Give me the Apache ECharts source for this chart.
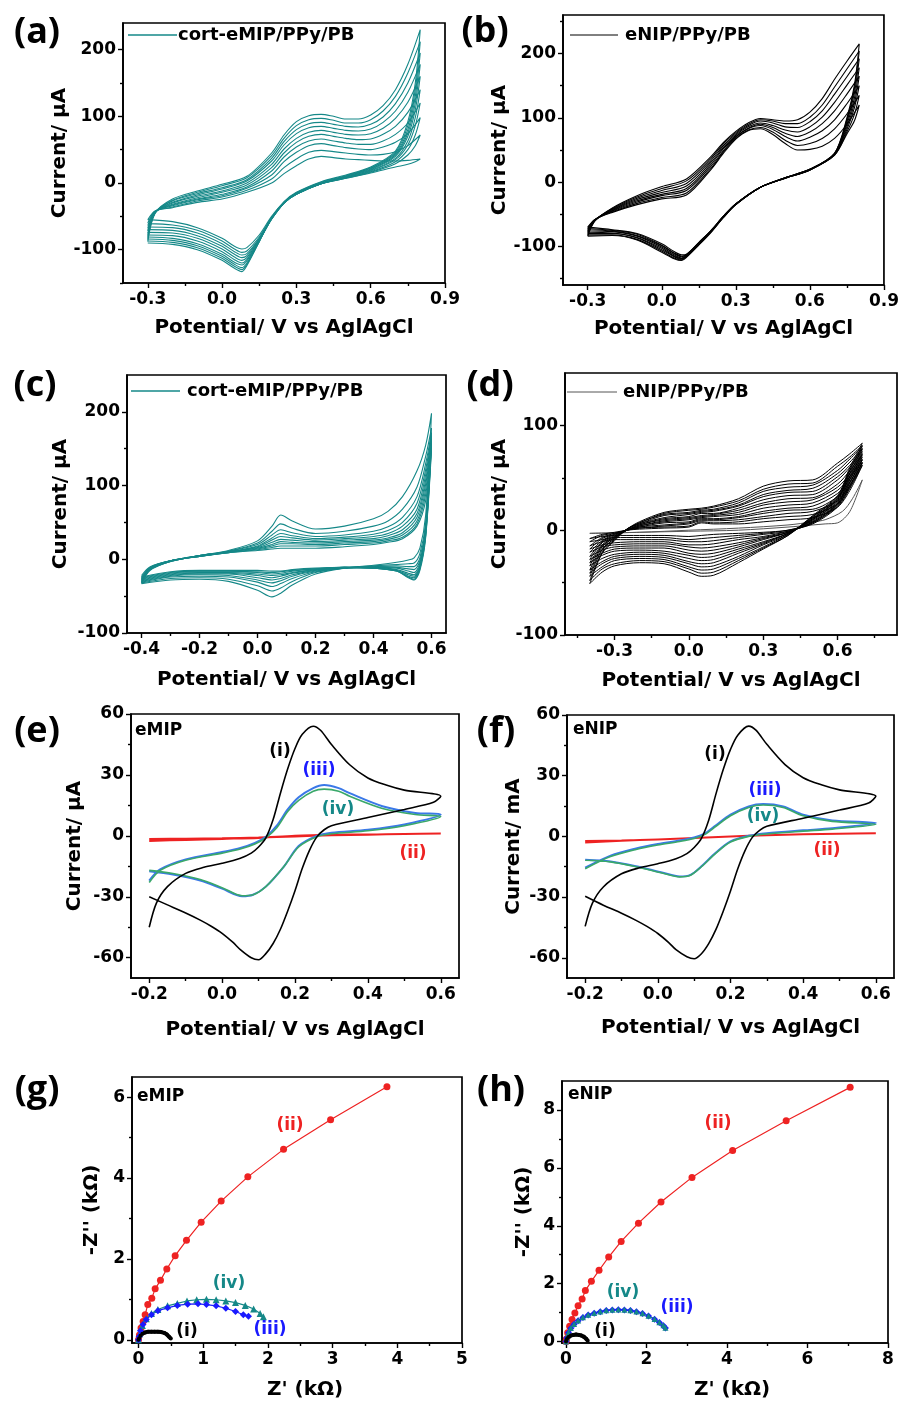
<!DOCTYPE html>
<html><head><meta charset="utf-8">
<script src="https://cdn.jsdelivr.net/npm/echarts@6/dist/echarts.min.js"></script>
<style>html,body{margin:0;padding:0;background:#fff}#c{width:902px;height:1406px}</style>
</head><body><div id="c"></div>
<script>
// ---------- DATA ----------
// (a) cort-eMIP/PPy/PB  (forward / reverse sweeps, one row per cycle)
const aFwdV = [-0.3,-0.27,-0.2,-0.1,0.0,0.1,0.2,0.25,0.3,0.35,0.4,0.45,0.5,0.55,0.6,0.65,0.7,0.75,0.8];
const aRevV = [0.8,0.78,0.75,0.7,0.6,0.5,0.4,0.3,0.25,0.2,0.15,0.1,0.08,0.05,0.0,-0.1,-0.2,-0.3];
const aFwdI = [
 [-88,-45,-24,-12,-2,10,45,72,92,101,103,100,96,96,102,116,140,178,230],
 [-85,-45,-26,-14,-4,8,41,67,86,95,97,94,90,90,95,108,130,165,212],
 [-82,-44,-27,-16,-7,5,37,62,80,89,91,88,85,84,88,99,119,150,195],
 [-79,-44,-29,-18,-9,3,33,57,74,83,85,82,79,78,81,91,108,136,178],
 [-76,-44,-30,-20,-12,0,28,51,67,76,79,76,73,72,74,82,97,121,160],
 [-72,-43,-32,-22,-14,-3,23,45,61,70,73,70,67,65,66,73,85,106,140],
 [-68,-43,-33,-24,-17,-6,18,39,54,63,66,63,60,58,58,63,73,90,120],
 [-64,-43,-34,-25,-19,-8,12,32,46,56,59,56,53,51,50,54,61,74,98],
 [-60,-42,-36,-27,-21,-11,6,23,36,46,49,47,45,43,42,43,47,56,72],
 [-55,-42,-37,-29,-24,-14,0,14,26,36,40,38,36,35,34,33,33,34,36]
];
const aRevI = [
 [230,150,92,48,24,12,2,-14,-28,-52,-88,-124,-133,-128,-116,-100,-92,-90],
 [212,140,86,46,23,11,1,-15,-29,-53,-88,-122,-130,-125,-113,-97,-89,-87],
 [195,130,80,44,22,10,0,-15,-29,-53,-87,-120,-127,-122,-110,-94,-86,-84],
 [178,120,75,42,21,10,0,-16,-30,-54,-87,-117,-123,-119,-107,-91,-83,-81],
 [160,110,70,40,20,9,-1,-16,-30,-54,-86,-115,-120,-115,-103,-87,-79,-78],
 [140,98,63,37,19,9,-1,-16,-30,-54,-85,-112,-116,-111,-99,-83,-75,-74],
 [120,86,57,35,18,8,-1,-17,-30,-54,-84,-109,-112,-107,-95,-79,-71,-70],
 [98,72,50,32,17,8,-1,-17,-30,-53,-83,-106,-108,-103,-91,-75,-67,-66],
 [72,56,42,29,16,7,-1,-17,-30,-52,-81,-102,-104,-99,-87,-71,-63,-61],
 [36,32,28,24,15,7,-1,-17,-29,-50,-78,-97,-99,-95,-83,-67,-58,-55]
];
// (b) eNIP/PPy/PB
const bFwdV = [-0.3,-0.27,-0.2,-0.1,0.0,0.1,0.2,0.25,0.3,0.35,0.4,0.45,0.5,0.55,0.6,0.65,0.7,0.75,0.8];
const bRevV = [0.8,0.78,0.75,0.7,0.6,0.5,0.4,0.3,0.25,0.2,0.15,0.1,0.08,0.05,0.0,-0.1,-0.2,-0.3];
const bFwdI = [
 [-84,-60,-40,-21,-7,5,40,62,79,92,99,97,95,97,109,130,160,188,215],
 [-82,-60,-41,-23,-10,2,37,60,77,90,97,95,91,91,101,120,148,176,204],
 [-80,-59,-42,-25,-13,-2,34,57,75,88,95,92,86,85,94,111,137,164,192],
 [-78,-59,-43,-27,-16,-6,31,54,73,86,92,88,81,78,86,101,124,151,178],
 [-76,-59,-44,-29,-19,-10,28,52,71,84,90,85,76,71,78,91,111,137,165],
 [-74,-58,-45,-31,-21,-13,25,49,70,83,88,82,71,64,70,80,97,122,150],
 [-72,-58,-46,-33,-24,-17,22,47,68,81,85,78,65,57,60,68,83,106,135],
 [-70,-58,-47,-35,-26,-20,20,45,67,80,83,74,60,50,51,56,68,90,120]
];
const bRevI = [
 [215,150,100,45,20,7,-8,-35,-55,-78,-98,-117,-122,-119,-109,-90,-83,-84],
 [204,145,97,45,20,7,-8,-35,-55,-77,-97,-116,-121,-118,-107,-89,-82,-82],
 [192,138,94,44,20,7,-8,-35,-54,-77,-97,-115,-120,-116,-105,-87,-80,-80],
 [178,130,90,44,20,7,-8,-34,-54,-76,-96,-115,-119,-115,-103,-86,-79,-78],
 [165,122,86,43,19,6,-8,-34,-54,-76,-95,-114,-118,-113,-101,-84,-77,-76],
 [150,115,82,43,19,6,-8,-34,-53,-76,-95,-113,-116,-111,-99,-83,-76,-74],
 [135,105,78,42,19,6,-8,-34,-53,-75,-94,-113,-115,-110,-98,-81,-75,-72],
 [120,95,75,42,19,6,-8,-34,-53,-75,-94,-112,-113,-108,-96,-80,-74,-70]
];
// (c) cort-eMIP/PPy/PB
const cFwdV = [-0.4,-0.37,-0.3,-0.2,-0.1,0.0,0.05,0.08,0.12,0.2,0.3,0.4,0.45,0.5,0.55,0.58,0.6];
const cRevV = [0.6,0.58,0.56,0.54,0.52,0.48,0.4,0.3,0.2,0.12,0.08,0.05,0.0,-0.1,-0.2,-0.3,-0.4];
const cFwdI = [
 [-33,-15,-3,5,12,25,45,60,52,41,45,55,65,85,120,155,198],
 [-32,-14,-3,5,11,22,38,48,42,35,38,45,52,68,98,140,178],
 [-31,-14,-3,5,11,20,33,40,36,31,33,38,44,57,85,130,172],
 [-30,-13,-2,5,10,18,29,35,32,28,30,34,39,50,76,122,168],
 [-29,-13,-2,5,10,17,26,31,29,26,28,31,35,45,68,115,165],
 [-28,-12,-2,4,10,16,23,27,26,24,26,28,32,40,62,108,162],
 [-27,-12,-2,4,10,15,20,24,23,22,24,26,29,36,57,102,160],
 [-26,-11,-2,4,9,14,18,21,21,20,22,24,27,33,52,95,158],
 [-24,-11,-2,4,9,13,16,18,18,18,20,22,25,30,48,88,155],
 [-22,-10,-2,4,9,12,14,15,15,15,17,20,23,28,45,80,150]
];
const cRevI = [
 [198,60,15,2,-1,-4,-8,-12,-20,-35,-46,-51,-42,-30,-27,-28,-33],
 [178,50,8,-5,-6,-7,-9,-12,-18,-30,-39,-43,-36,-27,-25,-26,-32],
 [172,45,2,-10,-10,-9,-10,-12,-17,-26,-33,-37,-31,-24,-23,-24,-31],
 [168,42,-2,-14,-13,-11,-10,-12,-16,-23,-29,-32,-28,-22,-21,-23,-30],
 [165,40,-5,-18,-16,-12,-11,-12,-15,-21,-26,-28,-25,-20,-20,-22,-29],
 [162,38,-8,-21,-19,-14,-11,-11,-14,-19,-23,-25,-22,-19,-19,-21,-28],
 [160,36,-10,-23,-21,-15,-12,-11,-14,-18,-21,-22,-20,-18,-18,-20,-27],
 [158,34,-12,-25,-23,-16,-12,-11,-13,-16,-19,-20,-18,-17,-17,-19,-26],
 [155,32,-13,-27,-24,-16,-12,-11,-13,-15,-17,-18,-17,-16,-16,-18,-25],
 [150,30,-15,-28,-25,-16,-12,-11,-12,-14,-16,-16,-15,-15,-15,-17,-24]
];
// (d) eNIP/PPy/PB
const dFirstV = [-0.4,-0.2,0.0,0.2,0.4,0.5,0.55,0.6,0.65,0.7,0.66,0.62,0.55,0.5,0.4,0.2,0.0,-0.2,-0.4];
const dFirstI = [-3,-2,-1,0,3,5,6,7,18,48,30,18,10,8,5,2,0,-2,-3];
const dFwdV = [-0.4,-0.35,-0.3,-0.25,-0.2,-0.1,0.0,0.05,0.1,0.2,0.3,0.4,0.5,0.6,0.65,0.7];
const dRevV = [0.7,0.65,0.6,0.5,0.4,0.3,0.2,0.1,0.05,0.0,-0.1,-0.2,-0.3,-0.35,-0.4];
const dFwdI = [
 [-8,-4,-2,0,1,2,3,7,6,6,8,10,12,22,38,62],
 [-11,-5,-3,0,2,3,4,8,7,8,11,13,15,25,41,64],
 [-15,-7,-3,0,2,4,6,9,9,10,13,16,18,28,43,65],
 [-18,-8,-4,0,3,5,7,10,10,12,16,19,20,32,46,67],
 [-21,-10,-4,0,3,7,8,11,11,13,18,21,23,35,49,68],
 [-25,-11,-5,0,4,8,10,12,13,15,21,24,26,38,51,70],
 [-28,-12,-6,0,4,9,11,13,14,17,24,27,29,41,54,72],
 [-31,-14,-6,0,5,10,12,14,15,19,26,30,31,44,57,73],
 [-34,-15,-7,0,5,11,13,16,16,21,29,33,34,48,60,75],
 [-38,-16,-7,1,6,12,15,17,18,23,32,36,37,51,62,77],
 [-41,-18,-8,1,6,14,16,18,19,24,34,38,40,54,65,78],
 [-44,-19,-8,1,7,15,17,19,20,26,37,41,43,57,68,80],
 [-48,-21,-9,1,7,16,19,20,22,28,39,44,45,61,70,81],
 [-51,-22,-10,1,8,17,20,21,23,30,42,47,48,64,73,83]
];
const dRevI = [
 [62,40,22,6,0,-2,-3,-4,-5,-6,-5,-5,-5,-6,-8],
 [64,42,23,7,0,-3,-5,-7,-8,-9,-7,-7,-7,-9,-11],
 [65,43,24,7,-1,-4,-7,-10,-11,-11,-9,-9,-9,-11,-15],
 [67,45,25,8,-1,-6,-9,-13,-14,-14,-11,-11,-12,-14,-18],
 [68,46,25,8,-2,-7,-12,-16,-17,-16,-13,-13,-14,-16,-21],
 [70,48,26,9,-2,-8,-14,-19,-20,-19,-15,-15,-16,-19,-25],
 [72,49,27,10,-2,-9,-16,-22,-23,-22,-17,-17,-18,-22,-28],
 [73,51,28,10,-3,-11,-18,-25,-26,-24,-20,-19,-20,-24,-31],
 [75,52,29,11,-3,-12,-20,-28,-29,-27,-22,-21,-23,-27,-34],
 [77,54,30,11,-3,-13,-22,-31,-32,-30,-24,-23,-25,-30,-38],
 [78,55,30,12,-4,-14,-25,-34,-35,-32,-26,-25,-27,-32,-41],
 [80,57,31,13,-4,-16,-27,-37,-38,-35,-28,-27,-29,-35,-44],
 [81,58,32,13,-5,-17,-29,-40,-41,-37,-30,-29,-32,-37,-48],
 [83,60,33,14,-5,-18,-31,-43,-44,-40,-32,-31,-34,-40,-51]
];
// (e) eMIP
const eI_V = [-0.2,-0.18,-0.15,-0.1,-0.05,0.0,0.05,0.08,0.1,0.12,0.14,0.16,0.18,0.2,0.22,0.25,0.27,0.3,0.35,0.4,0.45,0.5,0.6,
  0.58,0.5,0.4,0.3,0.28,0.26,0.24,0.22,0.2,0.18,0.16,0.14,0.12,0.1,0.08,0.05,0.03,0.0,-0.03,-0.06,-0.1,-0.15,-0.2];
const eI_I = [-45,-33,-25,-18.5,-15.5,-13.5,-11,-8.5,-5.5,-1,8,21,33,43,50,54,52,45,35,28.5,25,22.5,19.5,
  16.5,13,9,5,3,-0.5,-7,-16,-27,-37,-46,-53,-58,-61,-60,-56,-52.5,-48,-44.5,-41.5,-38,-34,-30];
const eII_V = [-0.2,-0.1,0,0.1,0.2,0.3,0.4,0.5,0.6,0.5,0.4,0.3,0.2,0.1,0,-0.1,-0.2];
const eII_I = [-2.5,-2,-1.5,-1,0,0.5,0.7,0.9,1.1,0.9,0.6,0.3,-0.3,-0.8,-1.2,-1.4,-1.5];
const eIII_V = [-0.2,-0.17,-0.1,0.0,0.05,0.09,0.12,0.15,0.18,0.21,0.25,0.28,0.32,0.35,0.44,0.53,0.6,
  0.5,0.4,0.3,0.26,0.21,0.17,0.12,0.085,0.055,0.0,-0.06,-0.135,-0.2];
const eIII_I = [-22,-16.5,-11.6,-8,-6,-3.5,-0.5,5,13,19,23.5,25,23.5,21,14.6,11.3,10.5,
  5.6,3,1.5,0,-5,-15,-25,-29,-29.7,-26,-22,-19,-17.4];
const eIV_V = [-0.2,-0.17,-0.1,0.0,0.05,0.09,0.12,0.15,0.18,0.21,0.25,0.28,0.32,0.35,0.44,0.53,0.6,
  0.5,0.4,0.3,0.26,0.21,0.17,0.12,0.085,0.055,0.0,-0.06,-0.135,-0.2];
const eIV_I = [-23,-17,-12,-8.5,-6.5,-4,-1,4,12,17.5,22,23,22,19.5,13.5,10.5,9.5,
  5,2.5,1,-0.5,-5.5,-15,-25,-29,-29.5,-25.5,-21.5,-18.5,-17];
// (f) eNIP
const fI_V = [-0.2,-0.18,-0.15,-0.1,-0.05,0.0,0.05,0.08,0.1,0.12,0.14,0.16,0.18,0.2,0.22,0.25,0.27,0.3,0.35,0.4,0.45,0.5,0.6,
  0.58,0.5,0.4,0.3,0.28,0.26,0.24,0.22,0.2,0.18,0.16,0.14,0.12,0.1,0.08,0.05,0.03,0.0,-0.03,-0.06,-0.1,-0.15,-0.2];
const fI_I = [-44.5,-33,-25,-18.5,-15.5,-13.5,-11,-8.5,-5.5,-1,8,21,33,43,50,54.5,52.5,45.5,35.5,29,25.5,23,19.8,
  16.5,13,9,5,3,-0.5,-7,-16,-27,-37,-46,-53,-58,-60.5,-59.5,-56,-52.5,-48,-44.5,-41.5,-38,-34,-29.6];
const fII_V = [-0.2,-0.1,0,0.1,0.2,0.3,0.4,0.5,0.6,0.5,0.4,0.3,0.2,0.1,0,-0.1,-0.2];
const fII_I = [-3,-2.2,-1.5,-0.8,0,0.6,1,1.3,1.6,1.3,1,0.6,0,-0.8,-1.5,-2,-2.3];
const fIII_V = [-0.2,-0.13,-0.06,0.0,0.06,0.1,0.13,0.16,0.2,0.25,0.29,0.345,0.4,0.48,0.6,
  0.48,0.4,0.3,0.25,0.2,0.16,0.12,0.09,0.06,0.014,-0.06,-0.13,-0.2];
const fIII_I = [-15.5,-9.5,-6,-3.8,-2,-0.5,1.5,5.5,10.7,14.8,16,14.8,10.7,7.9,6.6,
  4,3,1.6,0.3,-2.5,-8,-14.8,-19,-19.8,-18,-14.8,-12.4,-11.5];
const fIV_V = [-0.2,-0.13,-0.06,0.0,0.06,0.1,0.13,0.16,0.2,0.25,0.29,0.345,0.4,0.48,0.6,
  0.48,0.4,0.3,0.25,0.2,0.16,0.12,0.09,0.06,0.014,-0.06,-0.13,-0.2];
const fIV_I = [-16,-10,-6.5,-4.3,-2.5,-1,1,5,10.2,14.3,15.5,14.3,10.2,7.4,6,
  3.6,2.6,1.2,0,-2.8,-8.3,-15,-19.2,-20,-18.2,-15,-12.6,-11.8];
// (g) eMIP Nyquist (kΩ)
const gI_X = [0,0.01,0.03,0.06,0.1,0.15,0.2,0.25,0.3,0.35,0.4,0.44,0.47,0.5];
const gI_Y = [0,0.04,0.1,0.15,0.18,0.2,0.2,0.2,0.2,0.19,0.17,0.13,0.08,0.03];
const gII_X = [0,0.015,0.04,0.072,0.103,0.144,0.206,0.258,0.34,0.438,0.567,0.742,0.969,1.278,1.69,2.242,2.969,3.84];
const gII_Y = [0,0.12,0.29,0.45,0.62,0.87,1.03,1.26,1.47,1.75,2.08,2.46,2.91,3.43,4.03,4.71,5.44,6.26];
const gIII_X = [0,0.01,0.03,0.07,0.12,0.2,0.3,0.45,0.6,0.76,0.92,1.05,1.2,1.35,1.5,1.62,1.7];
const gIII_Y = [0,0.08,0.22,0.38,0.5,0.62,0.72,0.79,0.85,0.88,0.89,0.87,0.84,0.78,0.7,0.62,0.58];
const gIV_X = [0,0.02,0.06,0.12,0.2,0.3,0.45,0.6,0.75,0.9,1.05,1.2,1.35,1.5,1.65,1.78,1.88,1.93];
const gIV_Y = [0,0.15,0.35,0.52,0.65,0.75,0.84,0.9,0.96,0.99,1.0,0.99,0.96,0.92,0.85,0.76,0.65,0.57];
// (h) eNIP Nyquist (kΩ)
const hI_X = [0,0.01,0.03,0.07,0.12,0.18,0.25,0.32,0.38,0.44,0.5,0.54];
const hI_Y = [0,0.05,0.11,0.17,0.21,0.23,0.24,0.23,0.21,0.17,0.1,0.03];
const hII_X = [0,0.01,0.04,0.09,0.15,0.22,0.3,0.4,0.48,0.63,0.82,1.06,1.37,1.8,2.36,3.13,4.14,5.47,7.06];
const hII_Y = [0,0.09,0.3,0.53,0.76,0.99,1.24,1.47,1.76,2.08,2.46,2.92,3.46,4.09,4.82,5.67,6.6,7.63,8.78];
const hIII_X = [0,0.02,0.06,0.12,0.2,0.3,0.42,0.55,0.7,0.85,1.0,1.15,1.3,1.45,1.6,1.75,1.9,2.05,2.2,2.32,2.42,2.47];
const hIII_Y = [0,0.12,0.3,0.46,0.6,0.72,0.83,0.92,0.98,1.03,1.07,1.09,1.1,1.09,1.07,1.03,0.97,0.88,0.77,0.66,0.55,0.47];
const hIV_X = [0,0.02,0.06,0.12,0.2,0.3,0.42,0.55,0.7,0.85,1.0,1.15,1.3,1.45,1.6,1.75,1.9,2.05,2.2,2.32,2.42,2.47];
const hIV_Y = [0,0.13,0.31,0.47,0.61,0.73,0.84,0.93,0.99,1.04,1.08,1.1,1.11,1.1,1.08,1.04,0.98,0.89,0.78,0.67,0.56,0.48];
// tick values
const tkCV9 = [-0.3,0,0.3,0.6,0.9], tkCV9m = [-0.15,0.15,0.45,0.75];
const tkC = [-0.4,-0.2,0,0.2,0.4,0.6], tkCm = [-0.3,-0.1,0.1,0.3,0.5];
const tkD = [-0.3,0,0.3,0.6], tkDm = [-0.45,-0.15,0.15,0.45,0.75];
const tkE = [-0.2,0,0.2,0.4,0.6], tkEm = [-0.1,0.1,0.3,0.5];
const tkY200 = [-100,0,100,200], tkY200m = [-150,-50,50,150,250];
const tkY100 = [-100,0,100], tkY100m = [-50,50];
const tkY60 = [-60,-30,0,30,60], tkY60m = [-45,-15,15,45];
const tkG = [0,1,2,3,4,5], tkGm = [0.5,1.5,2.5,3.5,4.5];
const tkGy = [0,2,4,6], tkGym = [1,3,5];
const tkH = [0,2,4,6,8], tkHm = [1,3,5,7];

// ---------- CHART ----------
const F = '"DejaVu Sans", "Liberation Sans", sans-serif';
const TEAL = '#158888', BLUE = '#1a1aff', RED = '#ee2222', GREEN = '#3aa86a', LBLUE = '#3a78e8';
const option = {animation:false, backgroundColor:'#fff', grid:[], xAxis:[], yAxis:[], series:[], graphic:[]};
const fmt1 = v => v.toFixed(1), fmt0 = v => String(Math.round(v));

function panel(g, p){
  option.grid.push({left:p.box[0], top:p.box[1], width:p.box[2], height:p.box[3], show:true,
    borderColor:'#000', borderWidth:1.7, backgroundColor:'rgba(0,0,0,0)'});
  const ts = {color:'#000', width:1.4};
  const lab = {color:'#000', fontFamily:F, fontWeight:'bold', fontSize:17};
  const nts = {color:'#000', fontFamily:F, fontWeight:'bold', fontSize:20};
  option.xAxis.push({type:'value', gridIndex:g, min:p.x[0], max:p.x[1], position:'bottom',
    name:p.xName, nameLocation:'middle', nameGap:p.xGap, nameTextStyle:Object.assign({padding:p.xPad||0}, nts),
    axisLine:{onZero:false, lineStyle:{color:'#000', width:1.7}},
    axisTick:{length:5, lineStyle:ts, customValues:p.xMaj},
    axisLabel:Object.assign({customValues:p.xMaj, margin:8, formatter:p.xFmt}, lab), splitLine:{show:false}});
  option.xAxis.push({type:'value', gridIndex:g, min:p.x[0], max:p.x[1], position:'bottom',
    axisLine:{show:false, onZero:false}, axisTick:{length:3, lineStyle:ts, customValues:p.xMin},
    axisLabel:{show:false}, splitLine:{show:false}});
  option.yAxis.push({type:'value', gridIndex:g, min:p.y[0], max:p.y[1], position:'left',
    name:p.yName, nameLocation:'middle', nameGap:p.yGap, nameRotate:90, nameTextStyle:nts,
    axisLine:{onZero:false, lineStyle:{color:'#000', width:1.7}},
    axisTick:{length:5, lineStyle:ts, customValues:p.yMaj},
    axisLabel:Object.assign({customValues:p.yMaj, margin:7, formatter:p.yFmt}, lab), splitLine:{show:false}});
  option.yAxis.push({type:'value', gridIndex:g, min:p.y[0], max:p.y[1], position:'left',
    axisLine:{show:false, onZero:false}, axisTick:{length:3, lineStyle:ts, customValues:p.yMin},
    axisLabel:{show:false}, splitLine:{show:false}});
}
const zip = (V, I) => V.map((v, i) => [v, I[i]]);
function line(g, data, color, width, extra){
  option.series.push(Object.assign({type:'line', xAxisIndex:2*g, yAxisIndex:2*g, data:data, showSymbol:false,
    smooth:0.3, lineStyle:{color:color, width:width}, itemStyle:{color:color}, silent:true}, extra||{}));
}
function cycles(g, fV, fI, rV, rI, color, width){
  for (let k = 0; k < fI.length; k++)
    line(g, zip(fV, fI[k]).concat(zip(rV.slice(1), rI[k].slice(1))), color, width);
}

const PV = 'Potential/ V vs AglAgCl';
panel(0, {box:[123,23,322,260], x:[-0.4,0.9], y:[-150,240], xMaj:tkCV9, xMin:tkCV9m, yMaj:tkY200, yMin:tkY200m.filter(v=>v<240),
  xFmt:fmt1, yFmt:fmt0, xName:PV, yName:'Current/ μA', xGap:35, yGap:52});
panel(1, {box:[563,15,322,270], x:[-0.4,0.9], y:[-160,260], xMaj:tkCV9, xMin:tkCV9m, yMaj:tkY200, yMin:tkY200m,
  xFmt:fmt1, yFmt:fmt0, xName:PV, yName:'Current/ μA', xGap:34, yGap:50});
panel(2, {box:[127,375,319,258], x:[-0.45,0.65], y:[-100,250], xMaj:tkC, xMin:tkCm, yMaj:tkY200, yMin:tkY200m.filter(v=>v>-100 && v<250),
  xFmt:fmt1, yFmt:fmt0, xName:PV, yName:'Current/ μA', xGap:37, yGap:56});
panel(3, {box:[565,373,332,262], x:[-0.5,0.84], y:[-100,150], xMaj:tkD, xMin:tkDm, yMaj:tkY100, yMin:tkY100m,
  xFmt:fmt1, yFmt:fmt0, xName:PV, yName:'Current/ μA', xGap:36, yGap:55});
panel(4, {box:[131,714,328,264], x:[-0.25,0.65], y:[-70,60], xMaj:tkE, xMin:tkEm, yMaj:tkY60, yMin:tkY60m,
  xFmt:fmt1, yFmt:fmt0, xName:PV, yName:'Current/ μA', xGap:42, yGap:46});
panel(5, {box:[567,715,327,263], x:[-0.25,0.65], y:[-70,60], xMaj:tkE, xMin:tkEm, yMaj:tkY60, yMin:tkY60m,
  xFmt:fmt1, yFmt:fmt0, xName:PV, yName:'Current/ mA', xGap:40, yGap:43});
panel(6, {box:[132,1077,330,266], x:[-0.1,5], y:[-0.08,6.5], xMaj:tkG, xMin:tkGm, yMaj:tkGy, yMin:tkGym,
  xFmt:fmt0, yFmt:fmt0, xName:"Z' (kΩ)", yName:"-Z'' (kΩ)", xGap:37, yGap:30, xPad:[0,0,0,16]});
panel(7, {box:[562,1081,326,262], x:[-0.1,8], y:[-0.05,9], xMaj:tkH, xMin:tkHm, yMaj:tkH, yMin:tkHm,
  xFmt:fmt0, yFmt:fmt0, xName:"Z' (kΩ)", yName:"-Z'' (kΩ)", xGap:37, yGap:28, xPad:[0,0,0,14]});

cycles(0, aFwdV, aFwdI, aRevV, aRevI, TEAL, 1.1);
cycles(1, bFwdV, bFwdI, bRevV, bRevI, '#000', 1.1);
cycles(2, cFwdV, cFwdI, cRevV, cRevI, TEAL, 1.1);
line(3, zip(dFirstV, dFirstI), '#555', 1);
cycles(3, dFwdV, dFwdI, dRevV, dRevI, '#000', 1);

line(4, zip(eII_V, eII_I), RED, 2);
line(4, zip(eIII_V, eIII_I), LBLUE, 2);
line(4, zip(eIV_V, eIV_I), GREEN, 1.6);
line(4, zip(eI_V, eI_I), '#000', 1.6);
line(5, zip(fII_V, fII_I), RED, 2);
line(5, zip(fIII_V, fIII_I), LBLUE, 2);
line(5, zip(fIV_V, fIV_I), GREEN, 1.6);
line(5, zip(fI_V, fI_I), '#000', 1.6);

const sym = (s, z) => ({showSymbol:true, symbol:s, symbolSize:z, smooth:false});
line(6, zip(gII_X, gII_Y), RED, 1.2, sym('circle', 7));
line(6, zip(gIV_X, gIV_Y), TEAL, 1.2, sym('triangle', 7));
line(6, zip(gIII_X, gIII_Y), BLUE, 1.2, sym('diamond', 7));
line(6, zip(gI_X, gI_Y), '#000', 4, sym('circle', 4));
line(7, zip(hII_X, hII_Y), RED, 1.2, sym('circle', 7));
line(7, zip(hIII_X, hIII_Y), BLUE, 1.2, sym('diamond', 7));
line(7, zip(hIV_X, hIV_Y), TEAL, 1.2, sym('triangle', 6));
line(7, zip(hI_X, hI_Y), '#000', 4, sym('circle', 4));

// ---------- TEXT / LEGENDS ----------
const txt = (t, x, y, color, font, align) => option.graphic.push({type:'text', x:x, y:y, silent:true, z:100,
  style:{text:t, fill:color, font:font, textAlign:align||'center', textVerticalAlign:'middle'}});
const seg = (x1, x2, y, color, w) => option.graphic.push({type:'line', silent:true, z:100,
  shape:{x1:x1, y1:y, x2:x2, y2:y}, style:{stroke:color, lineWidth:w}});
const PF = 'bold 36px "Open Sans", sans-serif', AF = 'bold 17px ' + F, LF = 'bold 18px ' + F;
[['(a)',37,33],['(b)',485,32],['(c)',35,386],['(d)',490,386],['(e)',37,732],['(f)',496,732],['(g)',37,1091],['(h)',501,1091]]
  .forEach(a => txt(a[0], a[1], a[2], '#000', PF));
seg(128,177,35,TEAL,1.5); txt('cort-eMIP/PPy/PB',178,35,'#000',LF,'left');
seg(570,618,35,'#000',1); txt('eNIP/PPy/PB',625,35,'#000',LF,'left');
seg(131,180,391,TEAL,1.5); txt('cort-eMIP/PPy/PB',187,391,'#000',LF,'left');
seg(567,617,392,'#555',1); txt('eNIP/PPy/PB',623,392,'#000',LF,'left');
txt('eMIP',135,731,'#000',AF,'left'); txt('(i)',280,752,'#000',AF); txt('(iii)',319,771,BLUE,AF);
txt('(iv)',338,810,TEAL,AF); txt('(ii)',413,854,RED,AF);
txt('eNIP',573,730,'#000',AF,'left'); txt('(i)',715,755,'#000',AF); txt('(iii)',765,791,BLUE,AF);
txt('(iv)',763,817,TEAL,AF); txt('(ii)',827,851,RED,AF);
txt('eMIP',137,1097,'#000',AF,'left'); txt('(ii)',290,1126,RED,AF); txt('(iv)',229,1284,TEAL,AF);
txt('(iii)',270,1330,BLUE,AF); txt('(i)',187,1332,'#000',AF);
txt('eNIP',568,1095,'#000',AF,'left'); txt('(ii)',718,1124,RED,AF); txt('(iv)',623,1293,TEAL,AF);
txt('(iii)',677,1308,BLUE,AF); txt('(i)',605,1332,'#000',AF);

const chart = echarts.init(document.getElementById('c'), null, {renderer:'canvas'});
chart.setOption(option);
</script></body></html>
